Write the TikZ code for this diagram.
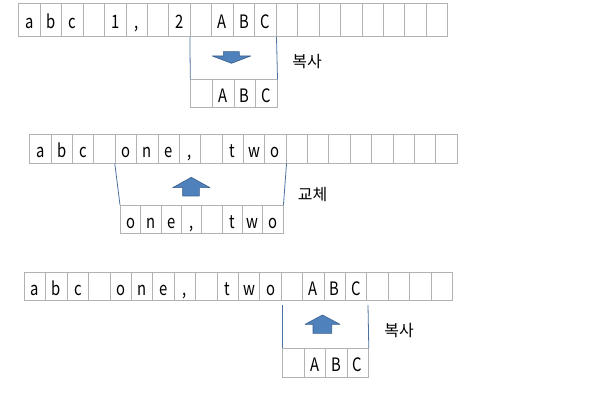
\documentclass[tikz,border=0pt]{standalone}
\usepackage{fontspec}
\setmainfont{Noto Sans CJK KR}
\newfontfamily\cellfont[FakeStretch=0.8]{Noto Sans CJK KR}
\definecolor{boxline}{HTML}{4A72A0}
\definecolor{arrfill}{HTML}{4F81BD}
\definecolor{arrdraw}{HTML}{3A5F8B}
\tikzset{
  cell/.style 2 args={draw=gray!60, line width=0.8pt, inner sep=0pt, anchor=north west,
    minimum width=#1pt, minimum height=#2pt, text height=20pt, text depth=2pt,
    font=\cellfont\fontsize{18.5}{18.5}\selectfont},
  link/.style={draw=boxline, line width=0.8pt},
  blk/.style={fill=arrfill, draw=arrdraw, line width=0.6pt, line join=round},
  lbl/.style={font=\fontsize{16}{16}\selectfont, inner sep=0pt}
}
\begin{document}
\begin{tikzpicture}[x=1pt,y=-1pt]
\useasboundingbox (0,0) rectangle (614,409);
% row 1 : copy
\foreach \t [count=\i from 0] in {a,b,c,{},1,{,},{},2,{},A,B,C,{},{},{},{},{},{},{},{}}
  \node[cell={21.45}{33}] (r1c\i) at ({18.3+\i*21.45},3) {\t};
\foreach \t [count=\i from 0] in {{},A,B,C}
  \node[cell={21.6}{28}] (d1c\i) at ({190.3+\i*21.6},79.3) {\t};
\draw[link] (r1c8.south west) -- (d1c0.north west);
\draw[link] (r1c11.south east) -- (d1c3.north east);
\draw[blk] (223.3,51.7) -- (239.3,51.7) -- (239.3,56) -- (250.7,56) -- (231.5,63.3)
  -- (212.3,56) -- (223.3,56) -- cycle;
\node[lbl] (copy1) at (307,62) {복사};
% row 2 : replace
\foreach \t [count=\i from 0] in {a,b,c,{},o,n,e,{,},{},t,w,o,{},{},{},{},{},{},{},{}}
  \node[cell={21.37}{28.7}] (r2c\i) at ({29.3+\i*21.37},134) {\t};
\foreach \t [count=\i from 0] in {o,n,e,{,},{},t,w,o}
  \node[cell={20.33}{28.3}] (d2c\i) at ({120+\i*20.33},205) {\t};
\draw[link] (r2c4.south west) -- (d2c0.north west);
\draw[link] (r2c11.south east) -- (d2c7.north east);
\draw[blk] (182.7,196) -- (199.3,196) -- (199.3,187.7) -- (210,187.7) -- (191.3,177.3)
  -- (172.7,187.7) -- (182.7,187.7) -- cycle;
\node[lbl] (swap) at (312.5,195) {교체};
% row 3 : copy back
\foreach \t [count=\i from 0] in {a,b,c,{},o,n,e,{,},{},t,w,o,{},A,B,C,{},{},{},{}}
  \node[cell={21.4}{28.3}] (r3c\i) at ({24+\i*21.4},271.7) {\t};
\foreach \t [count=\i from 0] in {{},A,B,C}
  \node[cell={21.5}{28.3}] (d3c\i) at ({282+\i*21.5},348.3) {\t};
\coordinate (t3l) at (282,305);
\coordinate (t3r) at (368,305);
\draw[link] (t3l) -- (d3c0.north west);
\draw[link] (t3r) -- (d3c3.north east);
\draw[blk] (313,333.3) -- (331.7,333.3) -- (331.7,324.3) -- (340,324.3) -- (322.5,315)
  -- (305,324.3) -- (313,324.3) -- cycle;
\node[lbl] (copy2) at (399,331) {복사};
\end{tikzpicture}
\end{document}
